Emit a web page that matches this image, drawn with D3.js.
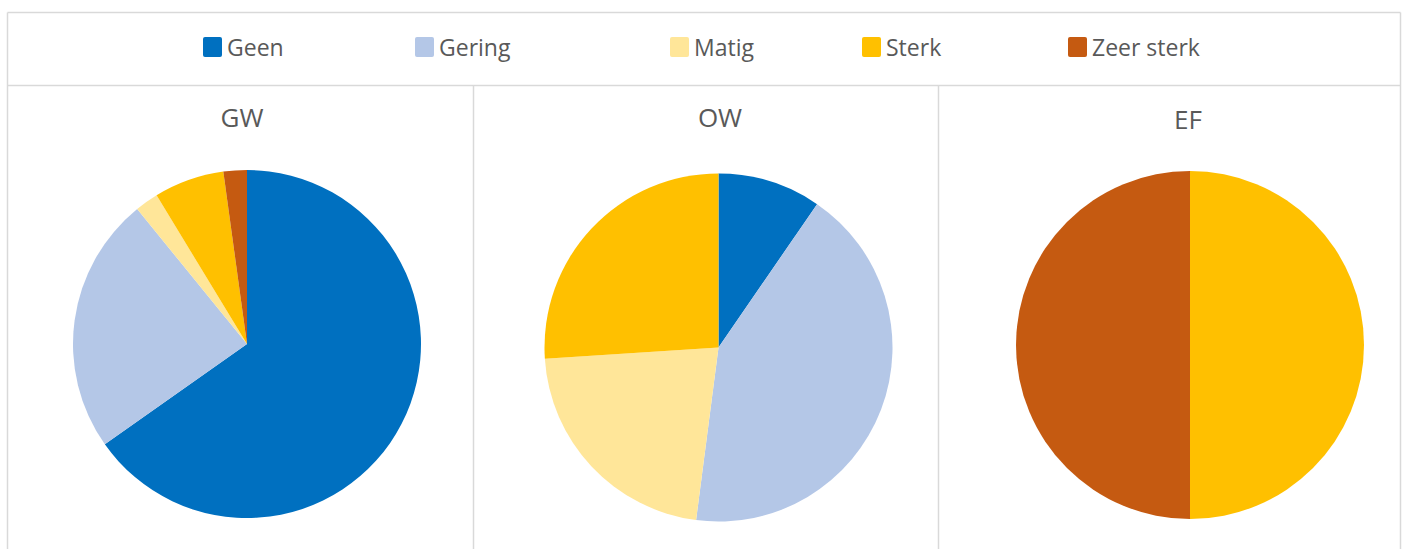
<!DOCTYPE html>
<html>
<head>
<meta charset="utf-8">
<script src="https://cdn.jsdelivr.net/npm/d3@7"></script>
<style>
html,body{margin:0;padding:0;background:#fff;}
svg{display:block;font-family:"Open Sans","Noto Sans",sans-serif;}
</style>
</head>
<body>
<svg id="chart" width="1408" height="549"></svg>
<script>
// Data
const categories = ["Geen", "Gering", "Matig", "Sterk", "Zeer sterk"];
const colors = ["#0070C0", "#B4C7E7", "#FFE699", "#FFC000", "#C55A11"];
const panels = ["GW", "OW", "EF"];
const valuesGW = [30, 11, 1, 3, 1];
const valuesOW = [7, 31, 16, 19, 0];
const valuesEF = [0, 0, 0, 1, 1];
const seriesValues = [valuesGW, valuesOW, valuesEF];

(function () {
const svg = d3.select("#chart");
const H = 549;
const frameLeft = 7.5, frameRight = 1400.5, frameTop = 12.5, legendBottom = 85.5;
const lineColor = "#d9d9d9";
const textColor = "#595959";

const color = d3.scaleOrdinal().domain(categories).range(colors);

// Frame
const frame = svg.append("g").attr("stroke", lineColor).attr("stroke-width", 1.5).attr("fill", "none");
frame.append("line").attr("x1", frameLeft).attr("x2", frameRight).attr("y1", frameTop).attr("y2", frameTop);
frame.append("line").attr("x1", frameLeft).attr("x2", frameRight).attr("y1", legendBottom).attr("y2", legendBottom);
frame.append("line").attr("x1", frameLeft).attr("x2", frameLeft).attr("y1", frameTop).attr("y2", H);
frame.append("line").attr("x1", frameRight).attr("x2", frameRight).attr("y1", frameTop).attr("y2", H);

// Panel layout
const dividerX = [473.5, 938.5];
dividerX.forEach(x => {
  frame.append("line").attr("x1", x).attr("x2", x).attr("y1", legendBottom).attr("y2", H);
});
const pieCX = [247, 718.5, 1190];
const pieCY = [344, 347.5, 345];
const titleCX = [242, 720, 1188];
const titleY = [127, 127, 129];

// Legend
const legendX = [203, 415, 670, 862, 1068];
const lg = svg.append("g");
categories.forEach((c, i) => {
  const g = lg.append("g").attr("transform", `translate(${legendX[i]},37)`);
  g.append("rect").attr("width", 19).attr("height", 20).attr("rx", 2).attr("fill", color(c));
  g.append("text").attr("x", 24).attr("y", 19).attr("font-size", 23).attr("fill", textColor).text(c);
});

// Pies
const pie = d3.pie().sort(null).value(d => d);
const radius = 174;
const arc = d3.arc().innerRadius(0).outerRadius(radius);

panels.forEach((p, i) => {
  const g = svg.append("g");
  g.append("text").attr("x", titleCX[i]).attr("y", titleY[i]).attr("text-anchor", "middle")
    .attr("font-size", 26).attr("fill", textColor).text(p);
  const pg = g.append("g").attr("transform", `translate(${pieCX[i]},${pieCY[i]})`);
  pg.selectAll("path").data(pie(seriesValues[i]))
    .join("path")
    .attr("d", arc)
    .attr("fill", (d, j) => color(categories[j]))
    .attr("stroke", "none");
});
})();
</script>
</body>
</html>
